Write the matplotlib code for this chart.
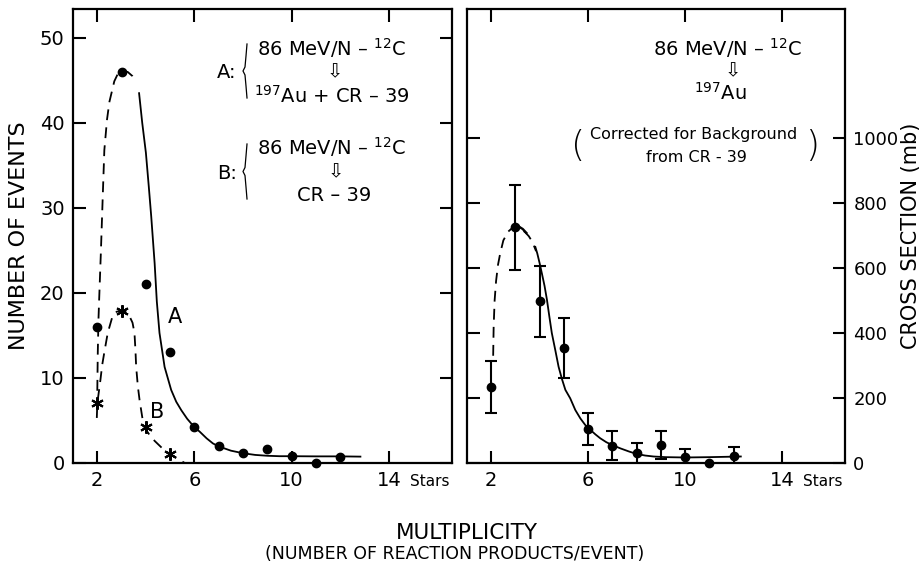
import numpy as np
import matplotlib
matplotlib.use("Agg")
import matplotlib.pyplot as plt
from matplotlib.lines import Line2D

plt.rcParams['font.family'] = ['DejaVu Sans']

# ---- data ----
# left panel: number of events vs multiplicity
mult = [2, 3, 4, 5, 6, 7, 8, 9, 10, 11, 12]
events_a = [16, 46, 21, 13, 4.2, 1.95, 1.15, 1.7, 0.8, 0, 0.75]
mult_b = [2, 3, 4, 5]
events_b = [7, 17.9, 4.2, 1.05]

# hand drawn guide curves
a_dash_x = [2.0, 2.02, 2.05, 2.08, 2.15, 2.22, 2.29, 2.4, 2.5, 2.7, 2.85, 3.05, 3.25, 3.45, 3.6]
a_dash_y = [8.5, 13, 17, 19.5, 25, 31, 36.8, 40.4, 42.5, 44.9, 45.8, 46.1, 46.0, 45.5, 44.8]
a_solid_x = [3.72, 3.85, 4.0, 4.12, 4.22, 4.36, 4.45, 4.56, 4.77, 5.04, 5.25, 5.46, 5.7, 6.0,
             6.21, 6.5, 6.76, 7.0, 7.5, 8.0, 8.5, 9.0, 9.5, 10.0, 11.0, 12.0, 12.83]
a_solid_y = [43.5, 40.0, 36.5, 32.5, 29.0, 23.5, 19.0, 15.3, 11.3, 8.6, 7.2, 6.2, 5.2, 4.2,
             3.7, 2.9, 2.3, 1.95, 1.45, 1.15, 0.95, 0.85, 0.8, 0.8, 0.78, 0.78, 0.75]
b_dash_x = [1.98, 2.0, 2.06, 2.13, 2.2, 2.3, 2.43, 2.63, 2.8, 2.98, 3.15, 3.32, 3.45, 3.53,
            3.57, 3.6, 3.67, 3.74, 3.85, 3.94, 4.15, 4.36, 4.65, 4.98, 5.3, 5.6]
b_dash_y = [5.3, 7.0, 8.3, 9.8, 11.5, 13.2, 15.3, 17.3, 17.8, 17.9, 17.8, 17.3, 16.5, 15.3,
            13.3, 11.3, 9.0, 7.4, 5.4, 4.2, 3.3, 2.6, 1.8, 1.05, 0.5, 0.0]

# right panel: cross section (mb)
xsec = [233, 725, 497, 355, 104, 53, 30, 54, 20, 0, 22]
xsec_err = [80, 130, 110, 92, 50, 45, 33, 43, 24, 0, 26]
c_dash_x = [2.08, 2.1, 2.14, 2.2, 2.28, 2.37, 2.5, 2.7, 2.85, 3.0, 3.2, 3.4, 3.55, 3.7, 3.85]
c_dash_y = [330, 420, 500, 560, 610, 645, 685, 712, 722, 727, 722, 710, 698, 680, 652]
c_arc_x = [3.0, 3.15, 3.3, 3.45]
c_arc_y = [728, 727, 720, 708]
c_solid_x = [3.82, 3.9, 4.0, 4.1, 4.2, 4.3, 4.4, 4.5, 4.65, 4.78, 4.92, 5.06, 5.26, 5.47, 5.68,
             5.88, 6.06, 6.3, 6.5, 6.75, 7.0, 7.33, 7.7, 8.0, 8.35, 8.7, 9.2, 10.0, 11.0, 12.3]
c_solid_y = [665, 645, 614, 580, 545, 502, 450, 400, 345, 296, 258, 225, 199, 163, 137,
             117, 104, 88, 76, 64, 55, 45, 35, 28, 23, 20, 18, 17, 18, 20]

xticks = [2, 6, 10, 14]

W, H = 920, 571
fig = plt.figure(figsize=(W / 100, H / 100), dpi=100)


def fx(px):
    return px / W


def fy(py):
    return 1 - py / H


ax1 = fig.add_axes([fx(73), fy(463), fx(452) - fx(73), fy(9) - fy(463)])
ax2 = fig.add_axes([fx(467), fy(463), fx(845) - fx(467), fy(9) - fy(463)])

dash = (0, (6, 4))
lw = 1.3

# left panel
ax1.plot(a_dash_x, a_dash_y, color='black', lw=lw, linestyle=dash)
ax1.plot(a_solid_x, a_solid_y, color='black', lw=lw)
ax1.plot(b_dash_x, b_dash_y, color='black', lw=lw, linestyle=dash)
ax1.plot(mult, events_a, 'o', color='black', ms=6, clip_on=False)
ax1.plot(mult_b, events_b, linestyle='none', marker=(6, 2, 0), color='black', ms=9, mew=1.5)

ax1.set_xlim(1, 16.6)
ax1.set_ylim(0, 53.4)
ax1.set_yticks([0, 10, 20, 30, 40, 50])
ax1.set_ylabel('NUMBER OF EVENTS', fontsize=16, labelpad=8)

ax1.text(5.2, 17.2, 'A', fontsize=15, ha='center', va='center')
ax1.text(4.45, 6.0, 'B', fontsize=15, ha='center', va='center')

# right panel
err_x = [m for m, e in zip(mult, xsec_err) if e > 0]
err_y = [v for v, e in zip(xsec, xsec_err) if e > 0]
err_e = [e for e in xsec_err if e > 0]
ax2.errorbar(err_x, err_y, yerr=err_e, fmt='none', ecolor='black', elinewidth=1.5,
             capsize=4, capthick=1.5)
ax2.plot(mult, xsec, 'o', color='black', ms=6, clip_on=False)
ax2.plot(c_dash_x, c_dash_y, color='black', lw=lw, linestyle=dash)
ax2.plot(c_arc_x, c_arc_y, color='black', lw=lw + 0.4)
ax2.plot(c_solid_x, c_solid_y, color='black', lw=lw)

ax2.set_xlim(1, 16.6)
ax2.set_ylim(0, 1397)
ax2.set_yticks([0, 200, 400, 600, 800, 1000])
ax2.yaxis.set_label_position('right')
ax2.set_ylabel('CROSS SECTION (mb)', fontsize=15, labelpad=2)

for ax in (ax1, ax2):
    ax.set_xticks(xticks)
    ax.tick_params(direction='in', length=9, width=1.5, top=True, right=True,
                   labelsize=14, pad=6)
    for s in ax.spines.values():
        s.set_linewidth(1.6)
ax2.tick_params(labelleft=False, labelright=True, labelsize=13)
ax2.tick_params(axis='x', labelsize=14)

# "Stars" after the last tick
fig.text(fx(430), fy(481), 'Stars', fontsize=11, ha='center', va='center')
fig.text(fx(823), fy(481), 'Stars', fontsize=11, ha='center', va='center')

# reaction labels, left panel
big = 14
fig.text(fx(227), fy(72), 'A:', fontsize=big, ha='center', va='center')
fig.text(fx(332), fy(48), r'86 MeV/N – $^{12}$C', fontsize=big, ha='center', va='center')
fig.text(fx(335), fy(72), '⇩', fontsize=big, ha='center', va='center')
fig.text(fx(332), fy(96), r'$^{197}$Au + CR – 39', fontsize=big, ha='center', va='center')
fig.text(fx(227), fy(173), 'B:', fontsize=big, ha='center', va='center')
fig.text(fx(332), fy(147), r'86 MeV/N – $^{12}$C', fontsize=big, ha='center', va='center')
fig.text(fx(336), fy(172), '⇩', fontsize=big, ha='center', va='center')
fig.text(fx(334), fy(196), 'CR – 39', fontsize=big, ha='center', va='center')


def brace(xc, top, bot):
    mid = (top + bot) / 2
    xs = [xc + 1, xc, xc - 1, xc - 3, xc - 1, xc, xc + 1]
    ys = [top, top + 12, mid - 4, mid, mid + 4, bot - 12, bot]
    fig.add_artist(Line2D([fx(x) for x in xs], [fy(y) for y in ys], color='black', lw=0.9))


brace(246, 44, 98)
brace(246, 144, 199)

# right panel labels
fig.text(fx(728), fy(48), r'86 MeV/N – $^{12}$C', fontsize=big, ha='center', va='center')
fig.text(fx(733), fy(71), '⇩', fontsize=big, ha='center', va='center')
fig.text(fx(720), fy(93), r'$^{197}$Au', fontsize=big, ha='center', va='center')
fig.text(fx(578), fy(146), '(', fontsize=26, ha='center', va='center', fontweight='light')
fig.text(fx(812), fy(146), ')', fontsize=26, ha='center', va='center', fontweight='light')
fig.text(fx(694), fy(134), 'Corrected for Background', fontsize=11.5, ha='center', va='center')
fig.text(fx(696), fy(157), 'from CR - 39', fontsize=11.5, ha='center', va='center')

# common x label
fig.text(fx(467), fy(533), 'MULTIPLICITY', fontsize=15.5, ha='center', va='center')
fig.text(fx(455), fy(554), '(NUMBER OF REACTION PRODUCTS/EVENT)', fontsize=12.5,
         ha='center', va='center')

fig.savefig('out.png', dpi=100)
